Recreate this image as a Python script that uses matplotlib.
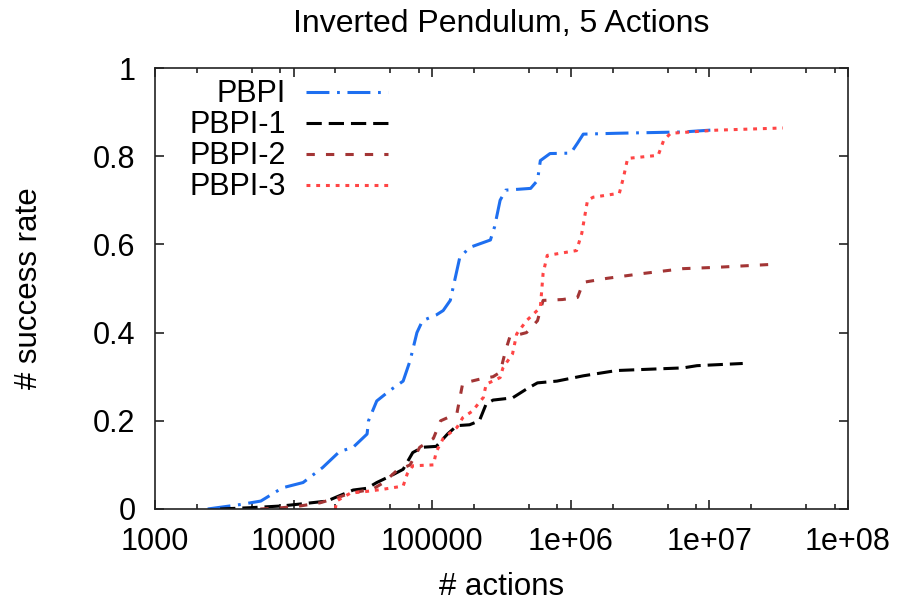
import matplotlib
matplotlib.use("Agg")
import matplotlib.pyplot as plt
from matplotlib.ticker import FixedLocator, LogLocator, NullFormatter

plt.rcParams['font.family'] = ['Liberation Sans', 'DejaVu Sans']
plt.rcParams['lines.scale_dashes'] = False

title = "Inverted Pendulum, 5 Actions"
xlabel = "# actions"
ylabel = "# success rate"

x_ticks = [1e3, 1e4, 1e5, 1e6, 1e7, 1e8]
x_tick_labels = ["1000", "10000", "100000", "1e+06", "1e+07", "1e+08"]
y_ticks = [0, 0.2, 0.4, 0.6, 0.8, 1.0]
y_tick_labels = ["0", "0.2", "0.4", "0.6", "0.8", "1"]

series_names = ["PBPI", "PBPI-1", "PBPI-2", "PBPI-3"]

pbpi_x = [2400, 4100, 5800, 8300, 11700, 16200, 21400, 26900, 33900, 34700,
          39800, 50100, 61700, 69200, 77600, 85100, 107000, 120000, 135000,
          158000, 186000, 263000, 282000, 309000, 339000, 513000, 575000,
          603000, 708000, 1000000, 1120000, 1230000, 2140000, 6460000, 11200000]
pbpi_y = [0, 0.01, 0.018, 0.048, 0.06, 0.094, 0.13, 0.14, 0.17, 0.2,
          0.245, 0.27, 0.29, 0.336, 0.40, 0.427, 0.44, 0.45, 0.473,
          0.57, 0.593, 0.61, 0.64, 0.70, 0.723, 0.727, 0.745,
          0.79, 0.806, 0.807, 0.83, 0.85, 0.852, 0.855, 0.86]

pbpi1_x = [2950, 4900, 8300, 11700, 17400, 21400, 26900, 33900, 39800, 50100,
           61700, 72400, 85100, 107000, 129000, 151000, 186000, 219000, 245000,
           275000, 380000, 479000, 575000, 794000, 1230000, 2140000, 6460000,
           8130000, 17400000]
pbpi1_y = [0, 0.003, 0.007, 0.012, 0.018, 0.03, 0.043, 0.047, 0.06, 0.075,
           0.09, 0.128, 0.14, 0.142, 0.17, 0.189, 0.191, 0.20, 0.238,
           0.247, 0.252, 0.272, 0.286, 0.29, 0.302, 0.314, 0.32,
           0.325, 0.33]

pbpi2_x = [5750, 8300, 11200, 15500, 20400, 25700, 37200, 44700, 55000, 69200,
           81300, 102000, 115000, 129000, 151000, 166000, 224000, 275000, 309000,
           339000, 363000, 479000, 575000, 631000, 871000, 1120000, 1230000,
           1820000, 3310000, 6460000, 11200000, 29500000]
pbpi2_y = [0, 0.003, 0.007, 0.014, 0.025, 0.036, 0.045, 0.06, 0.086, 0.10,
           0.14, 0.16, 0.20, 0.207, 0.218, 0.285, 0.295, 0.30, 0.31,
           0.36, 0.39, 0.40, 0.427, 0.473, 0.475, 0.48, 0.514,
           0.523, 0.534, 0.545, 0.548, 0.555]

pbpi3_x = [20000, 20400, 25700, 33900, 44700, 61700, 66100, 72400, 102000, 107000,
           120000, 151000, 166000, 195000, 234000, 245000, 309000, 324000, 380000,
           407000, 479000, 603000, 631000, 676000, 1100000, 1200000, 1320000,
           1450000, 2240000, 2400000, 2570000, 4270000, 4680000, 5250000,
           11200000, 33900000]
pbpi3_y = [0, 0.018, 0.036, 0.04, 0.045, 0.052, 0.08, 0.098, 0.10, 0.13,
           0.16, 0.185, 0.207, 0.222, 0.253, 0.283, 0.298, 0.32, 0.352,
           0.397, 0.427, 0.457, 0.534, 0.575, 0.586, 0.625, 0.70,
           0.707, 0.716, 0.752, 0.795, 0.802, 0.836, 0.852,
           0.859, 0.864]

fig = plt.figure(figsize=(8.97, 6.02), dpi=100)
ax = fig.add_axes([155 / 897, 93 / 602, 693 / 897, 441 / 602])

lw = 2.2
ax.plot(pbpi_x, pbpi_y, color="#1e6ff0", lw=lw, dashes=(16.5, 5.5, 2, 5.5),
        dash_capstyle="butt", label=series_names[0])
ax.plot(pbpi1_x, pbpi1_y, color="black", lw=lw, dashes=(11, 5),
        dash_capstyle="butt", label=series_names[1])
ax.plot(pbpi2_x, pbpi2_y, color="#a33535", lw=lw, dashes=(6, 8),
        dash_capstyle="butt", label=series_names[2])
ax.plot(pbpi3_x, pbpi3_y, color="#ff4545", lw=lw, dashes=(2.8, 4.2),
        dash_capstyle="butt", label=series_names[3])

ax.set_xscale("log")
ax.set_xlim(x_ticks[0], x_ticks[-1])
ax.set_ylim(0, 1)
ax.xaxis.set_major_locator(FixedLocator(x_ticks))
ax.set_xticklabels(x_tick_labels)
ax.xaxis.set_minor_locator(LogLocator(base=10, subs=(2, 5, 8)))
ax.xaxis.set_minor_formatter(NullFormatter())
ax.set_yticks(y_ticks)
ax.set_yticklabels(y_tick_labels)

fs = 22
ax.tick_params(which="both", direction="in", top=True, right=True,
               labelsize=fs, width=1.2, colors="#222222", labelcolor="black")
ax.tick_params(which="major", length=6.5)
ax.tick_params(which="minor", length=3.6)
ax.tick_params(axis="x", pad=13)
ax.tick_params(axis="y", pad=14)
for s in ax.spines.values():
    s.set_linewidth(1.2)
    s.set_color("#222222")

ax.set_title(title, fontsize=23, pad=26)
ax.set_xlabel(xlabel, fontsize=22.5, labelpad=11)
ax.set_ylabel(ylabel, fontsize=22.5, labelpad=35)

leg = ax.legend(loc="upper left", bbox_to_anchor=(0.05, 0.974), frameon=False,
                fontsize=fs, markerfirst=False, handlelength=2.68,
                handletextpad=0.65, labelspacing=0.03, borderpad=0,
                borderaxespad=0)

fig.savefig("out.png", dpi=100)
